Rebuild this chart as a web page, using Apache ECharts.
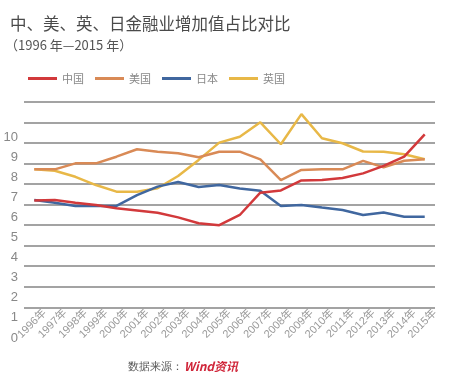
<!DOCTYPE html>
<html>
<head>
<meta charset="utf-8">
<script src="https://cdn.jsdelivr.net/npm/echarts@6/dist/echarts.min.js"></script>
<style>html,body{margin:0;padding:0;background:#fff;}#c{width:450px;height:383px;}</style>
</head>
<body>
<div id="c"></div>
<script>
var years = [1996,1997,1998,1999,2000,2001,2002,2003,2004,2005,2006,2007,2008,2009,2010,2011,2012,2013,2014,2015];
var seriesNames = ['中国','美国','日本','英国'];
var china = [6.84,6.87,6.73,6.62,6.45,6.34,6.23,6.00,5.71,5.61,6.12,7.23,7.34,7.84,7.86,7.96,8.19,8.56,9.02,10.13];
var usa   = [8.39,8.39,8.69,8.69,9.02,9.39,9.27,9.19,8.99,9.27,9.27,8.89,7.86,8.36,8.39,8.39,8.81,8.49,8.82,8.89];
var japan = [6.87,6.73,6.57,6.57,6.57,7.11,7.53,7.76,7.51,7.61,7.44,7.33,6.57,6.62,6.49,6.37,6.12,6.24,6.03,6.03];
var uk    = [8.39,8.32,8.02,7.61,7.28,7.28,7.45,8.06,8.86,9.72,10.01,10.73,9.64,11.14,9.94,9.69,9.28,9.27,9.14,8.89];
var yLabelMin = 0, yLabelMax = 10;
var gridLineMin = 1, gridLineMax = 11;
var colors = ['#d2393b','#d98a56','#40679f','#e8b847'];
var font = "'Liberation Sans','Noto Sans CJK SC',sans-serif";

function pairs(arr){ return years.map(function(y,i){ return [y, arr[i]]; }); }
var allData = [china, usa, japan, uk];

var chart = echarts.init(document.getElementById('c'), null, {renderer:'canvas'});
chart.setOption({
  animation:false,
  color: colors,
  textStyle:{fontFamily:font},
  title:[
    {text:'中、美、英、日金融业增加值占比对比', left:5, top:10,
     textStyle:{fontSize:16.5, fontWeight:'normal', color:'#4a4a4a', fontFamily:"'Noto Sans CJK SC',sans-serif"}},
    {text:'（1996 年—2015 年）', left:0, top:34,
     textStyle:{fontSize:13, fontWeight:'normal', color:'#555', fontFamily:"'Noto Sans CJK SC',sans-serif"}}
  ],
  legend:{
    data: seriesNames, left:23, top:68, icon:'rect', itemWidth:29, itemHeight:3, itemGap:11,
    textStyle:{fontSize:11, color:'#888', fontFamily:"'Noto Sans CJK SC',sans-serif"}
  },
  grid:[
    {left:24, right:15, top:137, bottom:45},
    {left:24, right:15, top:101.7, bottom:75.7}
  ],
  xAxis:[
    {type:'value', gridIndex:0, min:1995.5, max:2015.5, show:false},
    {type:'value', gridIndex:1, min:1995.5, max:2015.5, interval:1,
     axisLine:{show:false}, axisTick:{show:false}, splitLine:{show:false},
     axisLabel:{rotate:45, margin:4, fontSize:11, color:'#9a9a9a', showMinLabel:true, showMaxLabel:true,
       formatter:function(v){ var y=Math.floor(v); return y<years[0]?'':y+'年'; }}}
  ],
  yAxis:[
    {type:'value', gridIndex:0, min:yLabelMin, max:yLabelMax, interval:1,
     axisLine:{show:false}, axisTick:{show:false}, splitLine:{show:false},
     axisLabel:{margin:6, fontSize:13, color:'#888'}},
    {type:'value', gridIndex:1, min:gridLineMin, max:gridLineMax, interval:1,
     axisLine:{show:false}, axisTick:{show:false}, axisLabel:{show:false},
     splitLine:{show:true, lineStyle:{color:'#858585', width:1.5}}}
  ],
  series: seriesNames.map(function(n,i){
    return {name:n, type:'line', xAxisIndex:0, yAxisIndex:0, data:pairs(allData[i]),
      showSymbol:false, symbol:'none', clip:false, lineStyle:{width:2.5, color:colors[i]}, z:10-i};
  }),
  graphic:[
    {type:'text', left:128, top:361, style:{text:'数据来源：', fontSize:11, fill:'#555', font:"11px 'Noto Sans CJK SC',sans-serif"}},
    {type:'text', left:184, top:360, style:{text:'Wind资讯', fill:'#d0263a', font:"italic bold 12px 'Noto Sans CJK SC',sans-serif"}}
  ]
});
</script>
</body>
</html>
